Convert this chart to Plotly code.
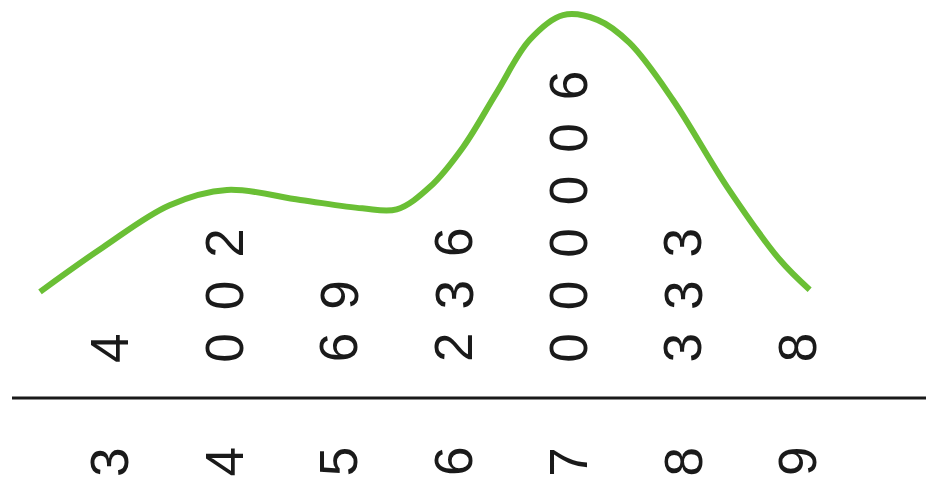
import plotly.graph_objects as go

# stem-and-leaf data (stems are tens, leaves are units)
stems = [3, 4, 5, 6, 7, 8, 9]
leaves = ["4", "002", "69", "236", "000006", "333", "8"]

# smooth curve drawn over the leaves
curve_x = [2.39, 2.94, 3.52, 4.02, 4.66, 5.20, 5.50, 5.79, 6.08, 6.37, 6.66,
           6.95, 7.25, 7.53, 7.91, 8.38, 8.84, 9.10]
curve_y = [1.07, 1.92, 2.72, 3.01, 2.82, 2.66, 2.64, 3.07, 3.83, 4.86, 5.87,
           6.34, 6.25, 5.81, 4.72, 3.07, 1.68, 1.11]

FONT = dict(family="Liberation Sans, Arial, sans-serif", size=53, color="#1a1a1a")

fig = go.Figure()

fig.add_trace(go.Scatter(x=curve_x, y=curve_y, mode="lines",
                         line=dict(color="#6abf35", width=6, shape="spline", smoothing=1.0),
                         hoverinfo="skip", showlegend=False))

annotations = []
for stem, leaf_str in zip(stems, leaves):
    annotations.append(dict(x=stem, y=-2.17, text=str(stem), textangle=-90,
                            showarrow=False, font=FONT, xref="x", yref="y"))
    for i, leaf in enumerate(leaf_str):
        annotations.append(dict(x=stem, y=i, text=leaf, textangle=-90,
                                showarrow=False, font=FONT, xref="x", yref="y"))

# the page body adds an 8px margin, ranges below account for it
fig.update_layout(
    width=934, height=483,
    margin=dict(l=0, r=0, t=0, b=0),
    paper_bgcolor="white", plot_bgcolor="white",
    xaxis=dict(range=[2.111, 10.254], visible=False),
    yaxis=dict(range=[-2.724, 6.476], visible=False),
    annotations=annotations,
    shapes=[dict(type="line", xref="x", yref="y", x0=2.146, x1=10.5, y0=-0.952, y1=-0.952,
                 line=dict(color="#1a1a1a", width=3))],
)

fig.write_html("out.html")
